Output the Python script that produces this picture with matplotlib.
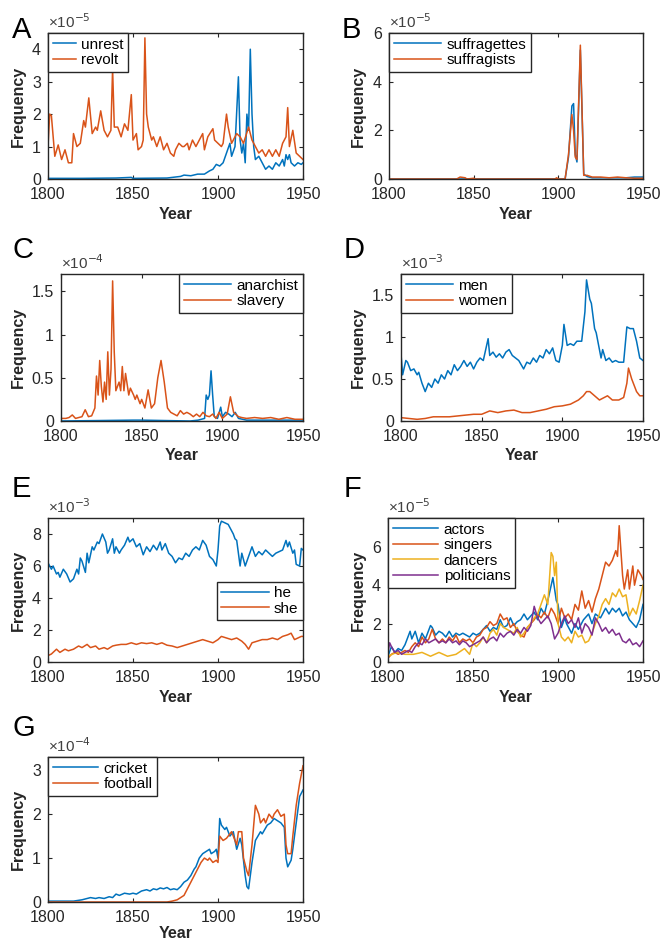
import matplotlib
matplotlib.use("Agg")
import matplotlib.pyplot as plt
from matplotlib.ticker import FuncFormatter

plt.rcParams['font.family'] = ['Liberation Sans', 'DejaVu Sans']

BLUE = '#0072BD'
ORANGE = '#D95319'
YELLOW = '#EDB120'
PURPLE = '#7E2F8E'

# ---------------- data (values in units of the panel's exponent) ----------------
A_UNREST = [(1800,0.02),(1820,0.02),(1840,0.03),(1849,0.05),(1850,0.02),(1870,0.03),(1878,0.08),(1880,0.12),
            (1884,0.1),(1888,0.15),(1892,0.15),(1895,0.25),(1897,0.3),(1899,0.45),(1901,0.4),(1903,0.5),
            (1905,0.8),(1907,1.1),(1908,0.7),(1910,1.0),(1912,3.15),(1913,1.2),(1914,0.8),(1915,1.1),
            (1916,0.5),(1917,2.0),(1918,1.5),(1919,4.0),(1920,2.0),(1921,1.0),(1922,0.6),(1924,0.7),
            (1926,0.5),(1928,0.3),(1930,0.4),(1932,0.3),(1934,0.5),(1936,0.4),(1938,0.6),(1939,0.4),
            (1940,0.75),(1941,0.6),(1942,0.75),(1943,0.5),(1945,0.4),(1947,0.5),(1949,0.45),(1950,0.5)]
A_REVOLT = [(1800,1.0),(1801,2.0),(1802,1.95),(1804,0.7),(1806,1.05),(1808,0.6),(1810,0.9),(1812,0.5),
            (1814,0.5),(1815,1.4),(1817,1.0),(1819,1.1),(1821,1.8),(1822,1.6),(1824,2.5),(1826,1.4),
            (1828,1.6),(1829,1.5),(1831,2.1),(1833,1.5),(1835,1.3),(1837,1.5),(1838,3.4),(1839,1.6),
            (1841,1.6),(1843,1.3),(1845,1.7),(1847,1.5),(1849,2.6),(1850,1.2),(1852,1.4),(1853,0.9),
            (1855,1.0),(1856,1.2),(1857,4.35),(1858,2.0),(1859,1.6),(1861,1.2),(1862,1.3),(1864,1.0),
            (1866,1.3),(1868,0.9),(1870,1.1),(1872,0.8),(1874,0.7),(1875,0.9),(1877,1.1),(1879,1.0),
            (1880,1.0),(1882,1.1),(1883,0.9),(1885,1.2),(1887,1.0),(1889,1.2),(1891,1.4),(1892,0.9),
            (1894,1.3),(1897,1.55),(1898,1.2),(1900,1.1),(1902,1.0),(1903,1.1),(1905,2.0),(1906,1.6),
            (1908,1.1),(1911,1.4),(1913,1.3),(1915,1.1),(1918,1.6),(1920,1.2),(1922,1.0),(1924,0.8),
            (1926,0.9),(1928,0.7),(1930,0.9),(1932,0.7),(1934,0.9),(1936,0.7),(1938,1.1),(1940,1.3),
            (1941,2.2),(1942,1.0),(1944,1.5),(1946,0.8),(1948,0.7),(1950,0.6)]

B_SUFFRAGETTES = [(1800,0),(1904,0),(1906,0.9),(1908,3.0),(1909,3.1),(1910,1.0),(1911,0.7),(1913,5.3),
                  (1915,0.2),(1917,0.1),(1920,0.05),(1930,0.05),(1940,0.05),(1945,0.08),(1950,0.08)]
B_SUFFRAGISTS = [(1800,0),(1840,0),(1842,0.08),(1845,0.05),(1846,0),(1850,0.03),(1851,0),(1898,0),
                 (1899,0.05),(1900,0),(1904,0),(1906,1.0),(1908,2.65),(1909,2.0),(1910,0.9),(1911,0.8),
                 (1913,5.5),(1915,0.15),(1917,0.15),(1920,0.08),(1925,0.08),(1930,0.05),(1935,0.08),
                 (1940,0.05),(1945,0.03),(1950,0.03)]

C_ANARCHIST = [(1800,0),(1845,0.01),(1850,0.01),(1880,0.0),(1885,0.01),(1889,0.03),(1890,0.3),(1891,0.25),
               (1892,0.3),(1893,0.58),(1894,0.3),(1895,0.05),(1897,0.03),(1899,0.16),(1900,0.05),
               (1902,0.1),(1904,0.08),(1906,0.05),(1908,0.1),(1910,0.03),(1915,0.01),(1950,0.01)]
C_SLAVERY = [(1800,0.03),(1803,0.03),(1805,0.04),(1807,0.07),(1809,0.03),(1811,0.04),(1813,0.05),(1815,0.13),
             (1817,0.05),(1819,0.06),(1821,0.15),(1822,0.52),(1823,0.3),(1824,0.7),(1825,0.4),(1826,0.22),
             (1827,0.45),(1828,0.25),(1829,0.8),(1830,0.3),(1831,0.6),(1832,1.62),(1833,0.8),(1834,0.35),
             (1836,0.45),(1837,0.35),(1838,0.63),(1839,0.35),(1840,0.55),(1842,0.3),(1843,0.38),(1845,0.3),
             (1846,0.25),(1847,0.3),(1849,0.2),(1850,0.25),(1852,0.15),(1854,0.36),(1856,0.15),(1858,0.2),
             (1860,0.5),(1862,0.7),(1864,0.45),(1866,0.15),(1868,0.1),(1870,0.08),(1872,0.06),(1874,0.12),
             (1876,0.08),(1878,0.1),(1880,0.08),(1882,0.05),(1884,0.08),(1886,0.05),(1888,0.1),(1890,0.06),
             (1892,0.05),(1894,0.08),(1896,0.03),(1898,0.1),(1900,0.03),(1903,0.08),(1905,0.28),(1907,0.1),
             (1910,0.05),(1912,0.04),(1915,0.03),(1920,0.04),(1925,0.03),(1930,0.04),(1935,0.02),
             (1940,0.04),(1945,0.02),(1950,0.02)]

D_MEN = [(1800,0.8),(1801,0.55),(1803,0.72),(1804,0.7),(1806,0.6),(1808,0.62),(1810,0.55),(1811,0.58),
         (1813,0.45),(1815,0.35),(1817,0.45),(1819,0.4),(1821,0.5),(1823,0.45),(1825,0.55),(1827,0.5),
         (1829,0.6),(1831,0.55),(1833,0.67),(1835,0.6),(1837,0.65),(1839,0.72),(1841,0.65),(1843,0.7),
         (1845,0.62),(1847,0.7),(1849,0.75),(1851,0.72),(1854,0.98),(1855,0.78),(1857,0.82),(1859,0.76),
         (1861,0.8),(1863,0.75),(1865,0.82),(1867,0.85),(1869,0.78),(1871,0.75),(1873,0.72),(1876,0.62),
         (1878,0.7),(1880,0.68),(1882,0.75),(1884,0.7),(1886,0.78),(1888,0.75),(1890,0.85),(1892,0.8),
         (1894,0.87),(1896,0.72),(1898,0.7),(1900,0.9),(1901,1.15),(1903,0.9),(1905,0.92),(1907,0.9),
         (1909,0.95),(1912,0.95),(1914,1.3),(1915,1.68),(1917,1.45),(1918,1.4),(1920,1.1),(1921,1.05),
         (1923,0.85),(1924,0.75),(1925,0.85),(1927,0.72),(1929,0.75),(1931,0.7),(1933,0.72),(1935,0.7),
         (1938,0.7),(1940,1.12),(1942,1.1),(1944,1.1),(1946,0.95),(1948,0.75),(1950,0.72)]
D_WOMEN = [(1800,0.04),(1805,0.03),(1810,0.02),(1815,0.03),(1820,0.05),(1825,0.05),(1830,0.05),(1835,0.06),
           (1840,0.07),(1845,0.08),(1850,0.08),(1855,0.12),(1860,0.1),(1865,0.12),(1870,0.13),(1875,0.1),
           (1880,0.1),(1885,0.12),(1890,0.14),(1895,0.17),(1900,0.18),(1905,0.2),(1910,0.25),(1913,0.3),
           (1915,0.35),(1917,0.35),(1920,0.3),(1923,0.25),(1926,0.28),(1928,0.3),(1931,0.25),(1935,0.25),
           (1938,0.28),(1940,0.45),(1941,0.63),(1943,0.5),(1946,0.35),(1948,0.3),(1950,0.3)]

E_HE = [(1800,6.2),(1802,5.8),(1803,6.0),(1805,5.5),(1806,5.6),(1807,5.3),(1809,5.8),(1811,5.5),(1813,5.0),
        (1815,5.2),(1817,5.8),(1818,5.5),(1819,6.5),(1820,6.3),(1822,5.6),(1823,6.8),(1824,6.2),(1826,7.2),
        (1827,7.0),(1829,7.5),(1830,7.4),(1832,8.0),(1834,7.5),(1835,6.8),(1836,7.0),(1838,7.7),(1839,6.8),
        (1840,7.2),(1842,6.8),(1843,7.0),(1845,7.3),(1847,7.8),(1848,7.5),(1850,7.7),(1852,7.2),(1854,7.4),
        (1856,6.7),(1858,7.2),(1860,6.9),(1862,7.3),(1864,7.0),(1866,7.5),(1867,7.0),(1869,7.4),(1871,6.8),
        (1873,6.6),(1875,6.2),(1877,6.5),(1879,6.4),(1881,6.8),(1883,6.6),(1885,7.0),(1887,7.2),(1889,7.0),
        (1891,7.6),(1893,7.3),(1895,6.6),(1897,6.4),(1899,6.0),(1900,7.0),(1901,8.5),(1902,8.8),(1904,8.7),
        (1906,8.6),(1907,8.4),(1909,8.0),(1910,7.7),(1911,7.6),(1912,6.8),(1913,6.0),(1914,6.8),(1916,6.0),
        (1918,6.6),(1920,7.2),(1922,6.6),(1924,6.9),(1926,6.7),(1928,7.0),(1930,6.8),(1932,6.6),(1934,6.8),
        (1936,6.9),(1938,7.0),(1940,7.6),(1941,7.2),(1942,7.5),(1944,6.8),(1945,7.0),(1946,6.1),(1948,6.0),
        (1949,7.1),(1950,7.0)]
E_SHE = [(1800,0.4),(1802,0.5),(1805,0.8),(1807,0.6),(1810,0.8),(1812,0.7),(1815,0.8),(1818,1.0),(1820,0.9),
         (1823,1.1),(1825,0.9),(1828,1.0),(1830,0.8),(1833,0.9),(1835,0.8),(1838,1.0),(1840,1.05),(1843,1.1),
         (1846,1.1),(1849,1.2),(1852,1.1),(1855,1.2),(1858,1.15),(1861,1.2),(1864,1.1),(1867,1.2),(1870,1.05),
         (1873,1.0),(1876,0.9),(1879,1.0),(1882,1.1),(1885,1.2),(1888,1.3),(1891,1.4),(1894,1.3),(1897,1.2),
         (1900,1.4),(1902,1.6),(1905,1.5),(1908,1.4),(1911,1.5),(1914,1.3),(1916,1.1),(1918,0.8),(1920,1.2),
         (1923,1.3),(1926,1.4),(1929,1.4),(1932,1.5),(1935,1.4),(1938,1.6),(1941,1.7),(1943,1.8),(1945,1.4),
         (1947,1.5),(1949,1.6),(1950,1.6)]

F_ACTORS = [(1800,0.3),(1802,0.8),(1804,0.5),(1806,0.7),(1808,0.6),(1810,0.9),(1813,1.6),(1814,1.2),(1816,1.6),
            (1818,1.0),(1820,1.5),(1822,1.2),(1825,1.9),(1826,1.8),(1828,1.4),(1830,1.6),(1832,1.5),(1834,1.3),
            (1836,1.6),(1838,1.3),(1840,1.5),(1842,1.4),(1844,1.5),(1846,1.4),(1848,1.3),(1850,1.5),(1852,1.4),
            (1854,1.5),(1856,1.7),(1858,1.9),(1860,1.6),(1862,1.8),(1864,1.7),(1866,2.2),(1868,1.8),(1870,1.9),
            (1872,2.3),(1874,1.9),(1876,2.1),(1878,2.2),(1880,2.5),(1882,2.2),(1884,2.4),(1886,2.6),(1888,2.2),
            (1890,2.8),(1892,2.5),(1894,3.2),(1897,4.4),(1899,3.2),(1900,3.0),(1902,1.8),(1904,2.3),(1905,2.0),
            (1908,1.5),(1910,2.0),(1912,1.7),(1915,2.2),(1918,2.5),(1920,2.0),(1922,2.5),(1925,2.3),(1928,2.8),
            (1930,2.5),(1932,2.8),(1934,2.6),(1936,2.8),(1938,2.4),(1940,2.6),(1942,2.2),(1944,2.0),(1946,1.8),
            (1948,2.2),(1950,3.0)]
F_SINGERS = [(1800,0.2),(1802,0.4),(1804,0.5),(1806,0.4),(1808,0.5),(1810,0.6),(1812,0.5),(1814,0.8),(1816,1.0),
             (1818,0.8),(1820,1.3),(1822,1.0),(1824,1.2),(1826,1.7),(1828,1.2),(1830,1.0),(1832,1.2),(1834,1.0),
             (1836,1.3),(1838,1.1),(1840,1.4),(1842,1.0),(1844,1.2),(1846,1.1),(1848,1.2),(1850,1.0),(1852,1.3),
             (1854,1.4),(1856,1.7),(1858,1.8),(1860,2.1),(1862,1.9),(1864,2.0),(1866,2.5),(1868,2.2),(1870,2.3),
             (1872,1.8),(1874,2.0),(1876,1.6),(1878,1.4),(1880,1.3),(1882,1.8),(1884,2.0),(1886,2.2),(1888,2.5),
             (1890,2.3),(1892,2.6),(1894,2.3),(1896,2.8),(1898,2.5),(1900,2.0),(1902,2.8),(1904,2.3),(1906,2.5),
             (1908,2.2),(1910,3.0),(1912,2.7),(1914,3.7),(1916,2.8),(1918,3.2),(1920,2.6),(1922,3.3),(1924,3.8),
             (1926,4.5),(1928,5.2),(1930,5.0),(1932,5.3),(1934,5.8),(1935,5.5),(1936,7.1),(1938,4.5),(1939,3.8),
             (1941,4.8),(1942,3.8),(1944,5.0),(1945,4.0),(1947,4.8),(1949,4.5),(1950,4.3)]
F_DANCERS = [(1800,0.3),(1805,0.5),(1810,0.4),(1815,0.4),(1820,0.5),(1825,0.3),(1830,0.5),(1835,0.3),(1840,0.4),
             (1845,0.7),(1848,0.4),(1850,1.0),(1852,0.8),(1854,1.0),(1856,1.3),(1858,1.0),(1860,1.5),(1862,1.7),
             (1864,1.4),(1866,2.0),(1868,1.8),(1870,1.7),(1872,1.6),(1874,1.5),(1876,1.8),(1878,1.3),(1880,1.5),
             (1882,1.8),(1884,2.0),(1886,2.3),(1888,2.5),(1890,3.0),(1892,3.5),(1894,3.0),(1896,5.7),(1897,5.5),
             (1898,4.5),(1899,5.2),(1900,2.0),(1902,1.3),(1904,1.1),(1906,1.3),(1908,1.0),(1910,1.6),(1912,1.3),
             (1914,1.4),(1916,1.0),(1918,1.1),(1920,1.5),(1922,2.0),(1924,2.4),(1926,3.0),(1928,3.3),(1930,3.0),
             (1932,3.6),(1934,3.4),(1936,3.8),(1938,3.4),(1940,3.5),(1942,2.4),(1944,2.8),(1946,2.5),(1948,3.2),
             (1950,4.0)]
F_POLITICIANS = [(1800,0.5),(1801,1.0),(1802,0.8),(1804,0.5),(1806,0.6),(1808,0.4),(1810,0.5),(1812,0.6),
                 (1814,0.5),(1816,0.8),(1818,1.0),(1820,0.9),(1822,1.2),(1824,1.0),(1826,1.1),(1828,1.2),
                 (1830,1.0),(1832,1.1),(1834,1.0),(1836,1.2),(1838,1.0),(1840,1.1),(1842,0.9),(1844,1.1),
                 (1846,1.0),(1848,0.8),(1850,0.9),(1852,1.0),(1854,1.1),(1856,1.3),(1858,1.0),(1860,1.2),
                 (1862,1.3),(1864,1.1),(1866,1.5),(1868,1.3),(1870,1.5),(1872,1.6),(1874,1.4),(1876,1.7),
                 (1878,1.5),(1880,1.8),(1882,1.6),(1884,1.9),(1886,2.9),(1888,2.3),(1890,2.0),(1892,2.2),
                 (1894,2.4),(1896,2.0),(1898,1.2),(1900,1.5),(1902,2.0),(1904,2.4),(1906,2.0),(1908,2.2),
                 (1910,1.8),(1912,2.3),(1914,1.5),(1916,2.0),(1918,1.8),(1920,1.4),(1922,2.3),(1924,2.0),
                 (1926,1.6),(1928,1.8),(1930,1.5),(1932,1.7),(1934,1.4),(1936,1.5),(1938,1.1),(1940,1.0),
                 (1942,1.2),(1944,0.9),(1946,1.0),(1948,0.8),(1950,1.1)]

G_CRICKET = [(1800,0.02),(1815,0.02),(1820,0.05),(1825,0.1),(1828,0.08),(1830,0.1),(1833,0.08),(1836,0.12),
             (1838,0.1),(1840,0.18),(1842,0.15),(1845,0.2),(1848,0.18),(1850,0.2),(1852,0.18),(1855,0.25),
             (1858,0.28),(1860,0.25),(1862,0.3),(1864,0.28),(1866,0.32),(1868,0.3),(1870,0.33),(1872,0.28),
             (1874,0.3),(1876,0.28),(1878,0.35),(1880,0.45),(1882,0.5),(1884,0.6),(1886,0.75),(1887,0.8),
             (1889,1.0),(1891,1.1),(1893,1.15),(1895,1.2),(1896,1.1),(1898,1.15),(1899,1.2),(1900,1.0),
             (1901,1.9),(1902,1.75),(1904,1.65),(1905,1.7),(1907,1.5),(1909,1.6),(1911,1.2),(1913,1.45),
             (1914,1.3),(1916,0.6),(1917,0.35),(1918,0.3),(1920,0.9),(1922,1.4),(1925,1.6),(1926,1.55),
             (1929,1.75),(1931,1.8),(1933,1.9),(1935,1.85),(1937,1.8),(1939,1.7),(1940,1.0),(1941,0.8),
             (1943,0.95),(1944,1.2),(1946,1.8),(1948,2.4),(1950,2.55)]
G_FOOTBALL = [(1800,0.0),(1870,0.0),(1873,0.02),(1876,0.05),(1878,0.1),(1880,0.15),(1882,0.3),(1884,0.45),
              (1886,0.6),(1888,0.75),(1890,0.9),(1892,1.0),(1894,0.95),(1895,1.0),(1897,0.9),(1899,0.95),
              (1900,0.9),(1901,1.5),(1903,1.4),(1905,1.45),(1906,1.5),(1908,1.6),(1910,1.4),(1911,1.3),
              (1912,1.6),(1914,1.6),(1915,1.0),(1917,0.7),(1918,0.6),(1920,1.3),(1922,2.2),(1924,2.0),
              (1925,1.8),(1927,1.9),(1928,1.8),(1930,2.0),(1932,1.9),(1933,2.0),(1935,2.1),(1937,1.95),
              (1939,2.0),(1940,1.3),(1941,1.1),(1943,1.1),(1944,1.5),(1946,2.2),(1948,2.7),(1950,3.1)]

X_TICKS = [1800, 1850, 1900, 1950]

# ---------------- layout ----------------
W, H = 662, 942
fig = plt.figure(figsize=(W / 100, H / 100), dpi=100)


def make_axes(x0, x1, y0, y1):
    return fig.add_axes([x0 / W, 1 - y1 / H, (x1 - x0) / W, (y1 - y0) / H])


panels = [
    dict(letter='A', box=(48, 303, 33, 179), exp='-5', ylim=4.5, yticks=[0, 1, 2, 3, 4],
         series=[('unrest', A_UNREST, BLUE), ('revolt', A_REVOLT, ORANGE)],
         leg=dict(loc='upper left', bbox_to_anchor=(0, 1), handlelength=1.5), lpos=(12, 38), ylx=-0.086, yl=35),
    dict(letter='B', box=(389, 643, 33, 179), exp='-5', ylim=6, yticks=[0, 2, 4, 6],
         series=[('suffragettes', B_SUFFRAGETTES, BLUE), ('suffragists', B_SUFFRAGISTS, ORANGE)],
         leg=dict(loc='upper left', bbox_to_anchor=(0, 1), handlelength=3.1), lpos=(342, 38), ylx=-0.09, yl=35),
    dict(letter='C', box=(61, 303, 274, 421), exp='-4', ylim=1.7, yticks=[0, 0.5, 1, 1.5],
         series=[('anarchist', C_ANARCHIST, BLUE), ('slavery', C_SLAVERY, ORANGE)],
         leg=dict(loc='upper right', bbox_to_anchor=(1, 1), handlelength=3.1), lpos=(12, 258), ylx=-0.145, yl=35),
    dict(letter='D', box=(401, 643, 274, 421), exp='-3', ylim=1.75, yticks=[0, 0.5, 1, 1.5],
         series=[('men', D_MEN, BLUE), ('women', D_WOMEN, ORANGE)],
         leg=dict(loc='upper left', bbox_to_anchor=(0, 1), handlelength=3.1), lpos=(344, 258), ylx=-0.145, yl=35),
    dict(letter='E', box=(48, 303, 518, 662), exp='-3', ylim=9, yticks=[0, 2, 4, 6, 8],
         series=[('he', E_HE, BLUE), ('she', E_SHE, ORANGE)],
         leg=dict(loc='lower right', bbox_to_anchor=(1, 0.29), handlelength=3.1), lpos=(12, 497), ylx=-0.086, yl=35),
    dict(letter='F', box=(388, 643, 518, 662), exp='-5', ylim=7.5, yticks=[0, 2, 4, 6],
         series=[('actors', F_ACTORS, BLUE), ('singers', F_SINGERS, ORANGE),
                 ('dancers', F_DANCERS, YELLOW), ('politicians', F_POLITICIANS, PURPLE)],
         leg=dict(loc='upper left', bbox_to_anchor=(0, 1), handlelength=3.0), lpos=(344, 497), ylx=-0.086, yl=35),
    dict(letter='G', box=(48, 303, 757, 902), exp='-4', ylim=3.3, yticks=[0, 1, 2, 3],
         series=[('cricket', G_CRICKET, BLUE), ('football', G_FOOTBALL, ORANGE)],
         leg=dict(loc='upper left', bbox_to_anchor=(0, 1), handlelength=3.0), lpos=(12, 736), ylx=-0.086, yl=32),
]

fmt = FuncFormatter(lambda v, p: f'{v:g}')
EDGE = '#262626'

for p in panels:
    ax = make_axes(*p['box'])
    h_px = p['box'][3] - p['box'][2]
    for name, pts, col in p['series']:
        xs = [q[0] for q in pts]
        ys = [q[1] for q in pts]
        ax.plot(xs, ys, color=col, lw=1.1, label=name)
    ax.set_xlim(1800, 1950)
    ax.set_ylim(0, p['ylim'])
    ax.set_xticks(X_TICKS)
    ax.set_yticks(p['yticks'])
    ax.yaxis.set_major_formatter(fmt)
    ax.tick_params(direction='in', top=True, right=True, length=3, width=0.8,
                   labelsize=11.5, colors=EDGE)
    ax.tick_params(axis='x', pad=6)
    ax.tick_params(axis='y', pad=5)
    for s in ax.spines.values():
        s.set_linewidth(1.0)
        s.set_color(EDGE)
    ax.set_ylabel('Frequency', fontsize=11.5, fontweight='bold', color=EDGE)
    ax.yaxis.set_label_coords(p['ylx'], 0.5)
    ax.set_xlabel('Year', fontsize=11.5, fontweight='bold', color=EDGE, va='center')
    ax.xaxis.set_label_coords(0.5, -p['yl'] / h_px)
    ax.text(0.0, 1.012, '×10$^{' + p['exp'] + '}$', transform=ax.transAxes, ha='left', va='bottom',
            fontsize=11, color='#404040')
    leg = ax.legend(fancybox=False, framealpha=1, edgecolor=EDGE, fontsize=11,
                    borderaxespad=0, borderpad=0.3, labelspacing=0.1, handletextpad=0.35,
                    **p['leg'])
    leg.get_frame().set_linewidth(1.0)
    fig.text(p['lpos'][0] / W, 1 - p['lpos'][1] / H, p['letter'], fontsize=21,
             ha='left', va='baseline', color='black')

fig.savefig('out.png', dpi=100)
